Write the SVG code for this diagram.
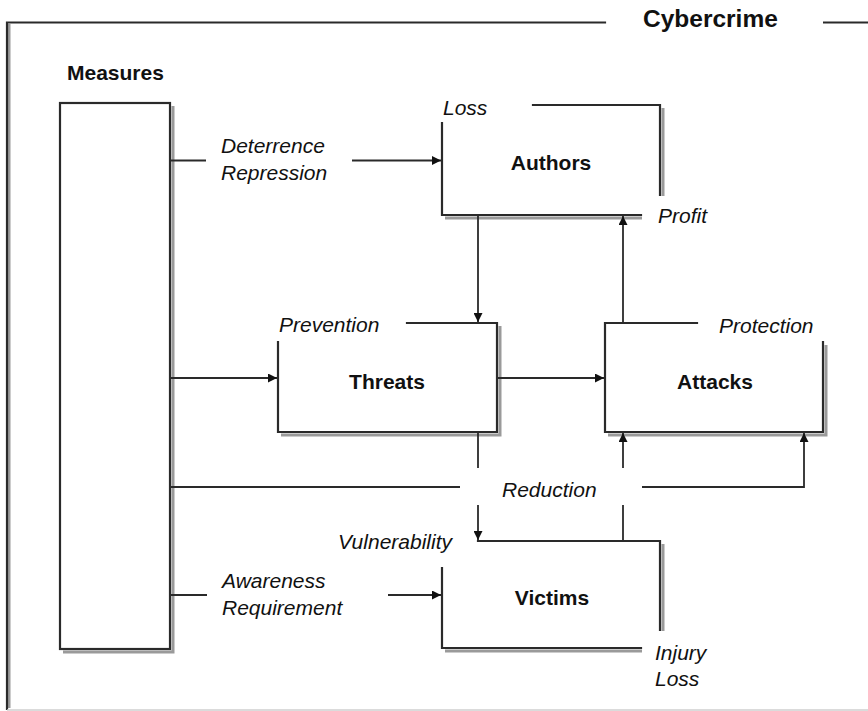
<svg xmlns="http://www.w3.org/2000/svg" width="868" height="711" viewBox="0 0 868 711">
<defs>
<style>
.edge{fill:none;stroke:#2a2a2a;stroke-width:2.2;stroke-linecap:square}
.shadow{fill:none;stroke:#9a9a9a;stroke-width:3}
.conn{fill:none;stroke:#2a2a2a;stroke-width:1.8}
.bold{font-family:"Liberation Sans",Arial,sans-serif;font-weight:bold;font-size:21px;fill:#111}
.ital{font-family:"Liberation Sans",Arial,sans-serif;font-style:italic;font-size:21px;fill:#111}
</style>
<marker id="arr" viewBox="0 0 10 10" refX="10" refY="5" markerWidth="12" markerHeight="9" markerUnits="userSpaceOnUse" orient="auto">
<path d="M0,0 L10,5 L0,10 z" fill="#111"/>
</marker>
</defs>
<rect width="868" height="711" fill="#fff"/>
<g id="frame">
<path class="shadow" d="M9,24 V708"/>
<path class="edge" d="M605,22.5 H7 V709"/>
<path d="M823,22.5 H868" stroke="#2a2a2a" stroke-width="2.2"/>
<path d="M7,710 H868" stroke="#cfcfcf" stroke-width="1.5"/>
<text class="bold" x="643" y="27" style="font-size:24.5px">Cybercrime</text>
</g>
<g id="measures">
<path class="shadow" d="M173,106 V652 H63"/>
<rect x="60" y="103" width="110" height="546" fill="#fff" stroke="#2a2a2a" stroke-width="2.2"/>
<text class="bold" x="67" y="80">Measures</text>
</g>
<g id="authors">
<path class="shadow" d="M663,108 V196 M445,218 H642"/>
<path class="edge" d="M533,105 H660 V195 M442,123 V215 H641"/>
<text class="ital" x="443" y="115">Loss</text>
<text class="bold" x="551" y="170" text-anchor="middle">Authors</text>
<text class="ital" x="658" y="223">Profit</text>
</g>
<g id="threats">
<path class="shadow" d="M500,326 V435 H281"/>
<path class="edge" d="M407,323 H497 V432 H278 V342"/>
<text class="ital" x="279" y="332">Prevention</text>
<text class="bold" x="387" y="389" text-anchor="middle">Threats</text>
</g>
<g id="attacks">
<path class="shadow" d="M826,345 V435 H608"/>
<path class="edge" d="M697,323 H605 V432 H823 V342"/>
<text class="ital" x="719" y="333">Protection</text>
<text class="bold" x="715" y="389" text-anchor="middle">Attacks</text>
</g>
<g id="victims">
<path class="shadow" d="M663,544 V631 M445,651 H642"/>
<path class="edge" d="M478,541 H660 V630 M442,568 V648 H641"/>
<text class="ital" x="452" y="549" text-anchor="end">Vulnerability</text>
<text class="bold" x="552" y="605" text-anchor="middle">Victims</text>
<text class="ital" x="655" y="660">Injury</text>
<text class="ital" x="655" y="686">Loss</text>
</g>
<g id="labels">
<text class="ital" x="221" y="153">Deterrence</text>
<text class="ital" x="221" y="180">Repression</text>
<text class="ital" x="502" y="497">Reduction</text>
<text class="ital" x="222" y="588">Awareness</text>
<text class="ital" x="222" y="615">Requirement</text>
</g>
<g id="connectors">
<path class="conn" d="M171,160.5 H206"/>
<path class="conn" d="M352,160.5 H441" marker-end="url(#arr)"/>
<path class="conn" d="M171,378 H277" marker-end="url(#arr)"/>
<path class="conn" d="M498,378 H604" marker-end="url(#arr)"/>
<path class="conn" d="M478,216 V322" marker-end="url(#arr)"/>
<path class="conn" d="M623,322 V216" marker-end="url(#arr)"/>
<path class="conn" d="M171,487 H460"/>
<path class="conn" d="M642,487 H804 V433" marker-end="url(#arr)"/>
<path class="conn" d="M478,433 V468"/>
<path class="conn" d="M478,505 V540" marker-end="url(#arr)"/>
<path class="conn" d="M623,540 V505"/>
<path class="conn" d="M623,468 V433" marker-end="url(#arr)"/>
<path class="conn" d="M171,595 H207"/>
<path class="conn" d="M388,595 H441" marker-end="url(#arr)"/>
</g>
</svg>
